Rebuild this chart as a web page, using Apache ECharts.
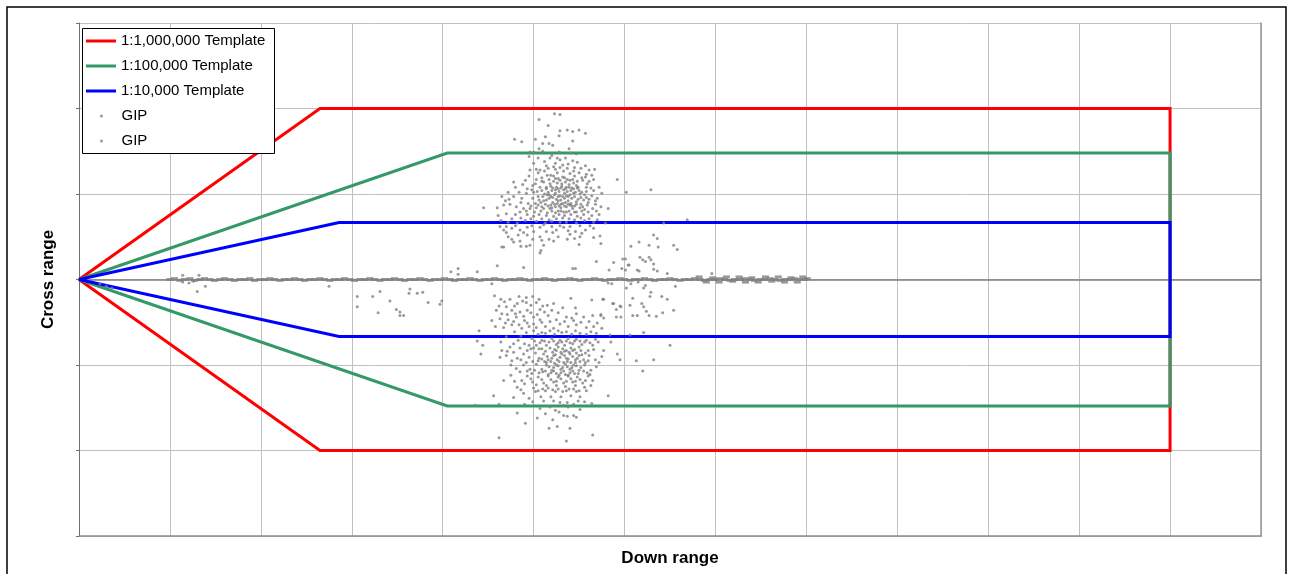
<!DOCTYPE html>
<html>
<head>
<meta charset="utf-8">
<title>Templates and GIP</title>
<script src="https://cdn.jsdelivr.net/npm/echarts@6/dist/echarts.min.js"></script>
<style>
  html, body { margin: 0; padding: 0; background: #fff; }
  #chart { width: 1292px; height: 574px; }
</style>
</head>
<body>
<div id="chart"></div>
<script>
// series names (second GIP carries a trailing space so both legend rows exist)
const seriesNames = ['1:1,000,000 Template', '1:100,000 Template', '1:10,000 Template', 'GIP', 'GIP ']

// template outlines [down range, cross range]
const redTemplate = [[0, 0], [2.65, 2], [12, 2], [12, -2], [2.65, -2], [0, 0]]
const greenTemplate = [[0, 0], [4.05, 1.48], [12, 1.48], [12, -1.48], [4.05, -1.48], [0, 0]]
const blueTemplate = [[0, 0], [2.86, 0.667], [12, 0.667], [12, -0.667], [2.86, -0.667], [0, 0]]

// upper cloud of GIP points
const upperCloud = [
  [5.23,1.94],[5.29,1.93],[5.06,1.87],[5.16,1.80],[5.37,1.75],[5.29,1.74],[5.43,1.73],[5.50,1.75],[5.57,1.71],
  [5.13,1.67],[5.28,1.68],[4.79,1.64],[4.87,1.61],[5.02,1.64],[5.21,1.57],[5.43,1.62],[5.10,1.59],[5.17,1.59],
  [5.06,1.53],[5.39,1.53],[5.28,1.49],[4.96,1.49],[5.00,1.49],[5.10,1.50],[5.41,1.48],[5.05,1.42],[4.95,1.44],
  [5.18,1.42],[5.26,1.42],[5.47,1.47],[5.43,1.39],[5.29,1.40],[5.32,1.34],[5.22,1.32],[5.14,1.33],[5.07,1.28],
  [5.03,1.29],[5.45,1.31],[5.50,1.25],[5.61,1.28],[5.67,1.29],[5.64,1.22],[5.57,1.20],[5.54,1.16],[4.96,1.28],
  [4.95,1.21],[5.09,1.19],[5.15,1.22],[5.22,1.21],[5.27,1.18],[5.34,1.19],[5.40,1.16],[5.45,1.21],[4.78,1.14],
  [4.88,1.11],[5.02,1.12],[5.07,1.08],[5.14,1.08],[5.19,1.09],[5.25,1.08],[5.30,1.07],[5.36,1.08],[5.42,1.07],
  [5.49,1.08],[5.58,1.08],[4.80,1.08],[4.93,1.06],[4.92,1.01],[5.00,1.02],[5.05,0.97],[5.12,1.00],[5.17,0.99],
  [5.24,1.01],[5.29,0.98],[5.34,1.01],[5.38,0.97],[5.44,1.01],[5.51,1.00],[5.66,1.04],[5.75,1.01],[5.70,0.95],
  [5.61,0.94],[5.55,0.93],[5.47,0.91],[5.41,0.89],[5.35,0.90],[5.27,0.92],[5.21,0.90],[5.14,0.93],[5.08,0.90],
  [5.02,0.89],[4.94,0.89],[4.87,0.95],[4.78,0.97],[4.73,0.94],[4.65,0.97],[4.45,0.84],[4.60,0.84],[4.67,0.87],
  [4.74,0.88],[4.81,0.85],[4.89,0.83],[4.96,0.83],[5.03,0.84],[5.11,0.83],[5.18,0.83],[5.24,0.85],[5.30,0.84],
  [5.36,0.85],[5.43,0.83],[5.51,0.84],[5.56,0.82],[5.65,0.83],[5.74,0.85],[5.82,0.83],[4.61,0.75],[4.70,0.77],
  [4.80,0.76],[4.93,0.76],[5.00,0.74],[5.06,0.76],[5.14,0.75],[5.22,0.74],[5.28,0.76],[5.34,0.75],[5.41,0.76],
  [5.48,0.74],[5.55,0.76],[5.64,0.75],[5.72,0.76],[4.64,0.69],[4.72,0.67],[4.82,0.66],[4.91,0.69],[5.03,0.68],
  [5.13,0.66],[5.20,0.68],[5.29,0.67],[5.36,0.67],[5.47,0.66],[5.56,0.69],[5.66,0.67],[5.79,0.66],[4.63,0.62],
  [4.67,0.58],[4.76,0.60],[4.85,0.58],[4.93,0.61],[5.07,0.61],[5.14,0.56],[5.25,0.58],[5.33,0.61],[5.46,0.56],
  [5.57,0.58],[5.66,0.60],[4.70,0.55],[4.76,0.47],[4.83,0.52],[4.93,0.52],[5.07,0.50],[5.17,0.47],[5.27,0.50],
  [5.40,0.53],[5.51,0.50],[5.66,0.49],[5.73,0.51],[4.78,0.44],[4.85,0.45],[5.09,0.46],[5.22,0.45],[5.37,0.47],
  [4.65,0.38],[4.67,0.38],[4.86,0.39],[4.92,0.39],[4.96,0.40],[5.11,0.40],[5.50,0.41],[5.74,0.42],[5.07,0.31],
  [5.08,0.34],[5.69,0.21],
  [5.18,1.12],[5.22,1.15],[5.26,1.13],[5.31,1.12],[5.35,1.14],[5.39,1.11],[5.44,1.13],[5.47,1.10],[5.20,1.04],
  [5.24,1.05],[5.28,1.03],[5.33,1.05],[5.37,1.03],[5.41,1.04],[5.46,1.02],[5.50,1.04],[5.17,0.95],[5.21,0.96],
  [5.25,0.94],[5.30,0.93],[5.34,0.95],[5.38,0.92],[5.42,0.95],[5.49,0.94],[5.19,0.87],[5.23,0.88],[5.28,0.86],
  [5.32,0.89],[5.40,0.87],[5.45,0.86],[5.52,0.88],[5.14,1.06],[5.11,0.92],[5.56,0.99],[5.59,1.12],[5.09,1.15],
  [5.26,1.25],[5.33,1.27],[5.40,1.24],[5.19,1.22],[5.30,0.80],[5.36,0.79],[5.24,0.78],[5.45,0.79],
  [5.92,1.17],[6.02,1.02],[6.29,1.05],[6.69,0.70],[6.43,0.66],
  [5.05,1.25],[5.12,1.27],[5.16,1.30],[5.24,1.29],[5.29,1.31],[5.37,1.30],[5.44,1.27],[5.52,1.30],[5.58,1.23],
  [5.03,1.17],[5.11,1.14],[5.17,1.17],[5.24,1.18],[5.29,1.16],[5.32,1.20],[5.37,1.17],[5.43,1.17],[5.48,1.15],
  [5.53,1.19],[5.61,1.15],[4.98,1.05],[5.04,1.03],[5.09,1.04],[5.16,1.02],[5.21,1.07],[5.27,1.06],[5.31,1.09],
  [5.35,1.06],[5.39,1.08],[5.44,1.06],[5.48,1.07],[5.53,1.02],[5.58,1.03],[5.63,1.07],[4.99,0.95],[5.06,0.93],
  [5.10,0.97],[5.15,0.99],[5.19,0.97],[5.23,0.99],[5.27,0.97],[5.32,0.97],[5.36,0.98],[5.40,0.99],[5.45,0.97],
  [5.52,0.96],[5.58,0.96],[5.64,0.98],[4.97,0.86],[5.05,0.87],[5.09,0.85],[5.13,0.88],[5.16,0.86],[5.20,0.84],
  [5.26,0.89],[5.30,0.88],[5.34,0.86],[5.38,0.88],[5.42,0.86],[5.47,0.88],[5.54,0.85],[5.59,0.87],[5.68,0.88],
  [4.85,0.79],[4.92,0.80],[5.01,0.79],[5.08,0.80],[5.15,0.78],[5.20,0.80],[5.27,0.80],[5.33,0.79],[5.39,0.80],
  [5.47,0.79],[5.53,0.80],[5.60,0.79],[5.69,0.80],[4.76,0.71],[4.86,0.72],[4.97,0.71],[5.09,0.71],[5.17,0.70],
  [5.25,0.71],[5.32,0.72],[5.39,0.71],[5.45,0.70],[5.52,0.72],[5.61,0.71],[5.70,0.70],[4.70,0.62],[4.80,0.63],
  [4.98,0.63],[5.11,0.64],[5.20,0.62],[5.29,0.63],[5.40,0.62],[5.51,0.63],[5.62,0.63],[4.89,0.55],[5.00,0.56],
  [5.21,0.55],[5.38,0.57],[5.53,0.54],[4.72,0.50],[4.99,0.47],[5.45,0.48],[4.69,0.92],[4.72,1.02],[4.84,1.02],
  [4.86,0.90],[4.99,1.10],[4.91,1.16],[5.60,0.90],[5.68,0.92],[5.72,1.08],[5.66,1.17],[5.12,1.38],[5.20,1.45],
  [5.35,1.42],[5.48,1.37],[5.00,1.36],[5.57,1.33],[5.24,1.36],[5.38,1.35]
]

// lower cloud of GIP points
const lowerCloud = [
  [4.54,-0.05],[4.57,-0.19],[4.64,-0.23],[4.74,-0.23],[4.84,-0.20],[4.92,-0.21],[4.99,-0.20],[5.06,-0.23],
  [4.82,-0.28],[4.92,-0.27],[4.70,-0.32],[4.59,-0.36],[4.65,-0.40],[4.76,-0.36],[4.85,-0.38],[4.93,-0.36],
  [5.07,-0.35],[5.15,-0.30],[5.22,-0.28],[5.41,-0.22],[5.46,-0.33],[5.64,-0.24],[5.77,-0.23],[5.88,-0.28],
  [5.95,-0.31],[4.54,-0.48],[4.63,-0.46],[4.72,-0.47],[4.81,-0.44],[4.90,-0.48],[5.00,-0.44],[5.07,-0.47],
  [5.16,-0.42],[5.27,-0.39],[5.36,-0.44],[5.47,-0.40],[5.55,-0.44],[5.65,-0.42],[5.74,-0.41],[4.40,-0.60],
  [4.58,-0.55],[4.67,-0.56],[4.76,-0.53],[4.87,-0.57],[4.95,-0.55],[5.03,-0.56],[5.13,-0.55],[5.22,-0.57],
  [5.29,-0.52],[5.38,-0.55],[5.47,-0.53],[5.58,-0.56],[5.66,-0.55],[5.75,-0.57],[5.84,-0.65],[6.06,-0.65],
  [6.21,-0.62],[4.38,-0.72],[4.44,-0.77],[4.42,-0.87],[4.64,-0.73],[4.70,-0.67],[4.74,-0.79],[4.83,-0.71],
  [4.90,-0.75],[4.98,-0.69],[5.03,-0.77],[5.09,-0.71],[5.14,-0.77],[5.20,-0.69],[5.25,-0.76],[5.29,-0.71],
  [5.34,-0.77],[5.38,-0.69],[5.43,-0.75],[5.47,-0.70],[5.53,-0.76],[5.58,-0.71],[5.65,-0.77],[5.71,-0.73],
  [5.77,-0.83],[5.85,-0.73],[5.92,-0.87],[6.13,-0.95],[6.32,-0.94],[6.50,-0.77],[6.20,-1.07],[5.95,-0.94],
  [4.65,-0.83],[4.63,-0.91],[4.70,-0.89],[4.78,-0.85],[4.82,-0.92],[4.89,-0.87],[4.95,-0.91],[5.02,-0.86],
  [5.06,-0.92],[5.11,-0.87],[5.16,-0.94],[5.22,-0.89],[5.26,-0.94],[5.31,-0.87],[5.36,-0.92],[5.40,-0.87],
  [5.46,-0.94],[5.50,-0.89],[5.55,-0.94],[5.61,-0.89],[5.68,-0.94],[5.75,-0.90],[4.75,-1.00],[4.81,-1.04],
  [4.89,-1.00],[4.96,-1.05],[5.03,-0.99],[5.09,-1.05],[5.14,-1.00],[5.20,-1.06],[5.25,-1.00],[5.30,-1.05],
  [5.35,-0.99],[5.40,-1.05],[5.44,-1.00],[5.50,-1.06],[5.56,-1.00],[5.63,-1.06],[5.69,-1.02],[4.67,-1.18],
  [4.75,-1.12],[4.82,-1.26],[4.87,-1.18],[4.93,-1.13],[4.99,-1.20],[5.05,-1.14],[5.11,-1.21],[5.16,-1.13],
  [5.22,-1.20],[5.27,-1.14],[5.33,-1.21],[5.38,-1.13],[5.43,-1.20],[5.48,-1.14],[5.54,-1.21],[5.60,-1.13],
  [5.65,-1.18],[4.56,-1.36],[4.78,-1.38],[4.89,-1.33],[4.95,-1.39],[5.02,-1.31],[5.08,-1.37],[5.13,-1.30],
  [5.19,-1.37],[5.24,-1.31],[5.30,-1.37],[5.36,-1.30],[5.41,-1.36],[5.47,-1.31],[5.51,-1.37],[5.58,-1.30],
  [5.82,-1.36],[4.36,-1.47],[4.62,-1.46],[4.90,-1.46],[5.07,-1.51],[5.18,-1.49],[5.24,-1.53],[5.37,-1.44],
  [5.38,-1.49],[5.44,-1.46],[5.64,-1.45],[4.82,-1.56],[5.33,-1.59],[5.37,-1.60],[5.44,-1.59],[5.47,-1.61],
  [4.91,-1.68],[5.26,-1.72],[5.17,-1.74],[5.40,-1.74],[4.62,-1.85],[5.65,-1.82],[5.36,-1.89],
  [5.18,-0.80],[5.23,-0.82],[5.27,-0.79],[5.32,-0.81],[5.36,-0.83],[5.41,-0.80],[5.45,-0.82],[5.50,-0.79],
  [5.15,-0.90],[5.20,-0.92],[5.24,-0.88],[5.29,-0.91],[5.34,-0.89],[5.38,-0.93],[5.43,-0.90],[5.48,-0.92],
  [5.53,-0.88],[5.17,-1.02],[5.22,-1.03],[5.27,-1.01],[5.32,-1.03],[5.37,-1.02],[5.42,-1.03],[5.47,-1.01],
  [5.52,-1.03],[5.19,-1.09],[5.25,-1.10],[5.30,-1.09],[5.35,-1.11],[5.40,-1.09],[5.45,-1.10],[5.12,-0.96],
  [5.57,-0.97],[5.10,-1.08],[5.59,-1.09],[5.06,-0.81],[5.60,-0.83],[5.13,-0.63],[5.31,-0.62],[5.42,-0.64],
  [5.05,-0.64],[5.25,-1.24],[5.35,-1.25],[5.46,-1.24],[4.98,-1.10],[4.92,-0.97],[4.86,-0.66],[4.97,-0.81],
  [5.58,-0.64],[5.63,-1.24],
  [4.68,-0.26],[4.79,-0.31],[4.88,-0.25],[4.97,-0.30],[5.03,-0.27],[5.10,-0.31],[4.62,-0.31],[4.71,-0.41],
  [4.80,-0.40],[4.89,-0.43],[4.97,-0.39],[5.04,-0.41],[5.12,-0.38],[5.20,-0.36],[5.32,-0.33],[5.42,-0.45],
  [4.69,-0.51],[4.78,-0.49],[4.84,-0.53],[4.93,-0.51],[5.00,-0.52],[5.09,-0.50],[5.18,-0.49],[5.25,-0.47],
  [5.34,-0.49],[5.44,-0.48],[5.52,-0.50],[5.61,-0.49],[5.70,-0.51],[4.79,-0.61],[4.92,-0.62],[5.00,-0.60],
  [5.09,-0.62],[5.18,-0.60],[5.23,-0.64],[5.27,-0.60],[5.36,-0.61],[5.46,-0.60],[5.51,-0.63],[5.63,-0.61],
  [5.69,-0.63],[4.78,-0.75],[4.95,-0.77],[5.01,-0.72],[5.07,-0.74],[5.12,-0.72],[5.17,-0.73],[5.22,-0.72],
  [5.27,-0.74],[5.31,-0.73],[5.36,-0.72],[5.40,-0.74],[5.45,-0.72],[5.51,-0.72],[5.56,-0.73],[5.62,-0.74],
  [5.68,-0.70],[4.71,-0.84],[4.85,-0.80],[4.93,-0.83],[5.00,-0.80],[5.09,-0.81],[5.13,-0.84],[5.21,-0.85],
  [5.25,-0.83],[5.30,-0.85],[5.34,-0.84],[5.39,-0.85],[5.43,-0.83],[5.47,-0.86],[5.52,-0.83],[5.57,-0.86],
  [5.66,-0.82],[4.76,-0.95],[4.86,-0.94],[4.99,-0.96],[5.05,-0.95],[5.09,-0.93],[5.14,-0.97],[5.19,-0.96],
  [5.23,-0.98],[5.28,-0.96],[5.33,-0.97],[5.37,-0.96],[5.41,-0.97],[5.46,-0.97],[5.51,-0.96],[5.60,-0.95],
  [5.72,-0.97],[4.85,-1.08],[4.93,-1.07],[5.01,-1.06],[5.06,-1.09],[5.13,-1.07],[5.16,-1.11],[5.22,-1.07],
  [5.28,-1.12],[5.33,-1.07],[5.38,-1.12],[5.43,-1.07],[5.49,-1.10],[5.55,-1.07],[5.62,-1.11],[4.79,-1.19],
  [4.90,-1.22],[4.97,-1.16],[5.03,-1.23],[5.09,-1.17],[5.14,-1.24],[5.19,-1.17],[5.25,-1.19],[5.30,-1.16],
  [5.36,-1.19],[5.41,-1.16],[5.46,-1.19],[5.51,-1.17],[5.57,-1.18],[4.86,-1.29],[5.00,-1.27],[5.05,-1.30],
  [5.10,-1.28],[5.16,-1.27],[5.21,-1.29],[5.27,-1.28],[5.32,-1.31],[5.39,-1.28],[5.44,-1.28],[5.50,-1.30],
  [5.56,-1.26],[4.99,-1.43],[5.11,-1.42],[5.22,-1.42],[5.29,-1.44],[5.33,-1.47],[5.49,-1.42],[5.56,-1.43],
  [5.28,-1.55],[5.13,-1.57],[5.51,-1.52],[5.04,-1.62],[5.21,-1.64]
]

// scattered GIP points around the centre line
const strayPoints = [
  [5.82,-0.04],[5.86,-0.05],[6.15,-0.03],[6.07,-0.05],[6.56,-0.08],[6.02,-0.10],[6.23,-0.07],[6.21,-0.10],
  [6.09,-0.22],[6.29,-0.15],[6.28,-0.20],[6.41,-0.20],[6.47,-0.23],[5.76,-0.23],[6.06,-0.30],[6.19,-0.28],
  [5.87,-0.28],[5.96,-0.32],[5.91,-0.35],[6.21,-0.32],[6.24,-0.37],[6.54,-0.36],[6.42,-0.39],[6.27,-0.42],
  [6.09,-0.42],[6.14,-0.42],[6.35,-0.43],[5.91,-0.44],[5.96,-0.44],[5.74,-0.42],[5.77,-0.45],
  [6.32,0.52],[6.36,0.48],[6.16,0.44],[6.27,0.40],[6.37,0.38],[6.54,0.40],[6.58,0.35],[6.07,0.39],
  [5.98,0.24],[6.01,0.24],[6.17,0.26],[6.27,0.26],[6.20,0.23],[6.23,0.21],[6.29,0.23],[6.32,0.18],
  [5.88,0.20],[6.05,0.17],[6.14,0.11],[6.16,0.10],[5.97,0.13],[6.01,0.11],[5.83,0.11],[6.32,0.12],
  [6.36,0.10],[6.47,0.07],[6.96,0.07],[6.04,0.17],
  [4.17,0.13],[4.60,0.16],[4.89,0.14],[5.43,0.13],[5.46,0.13],
  [1.30,-0.14],[1.39,-0.08],[2.75,-0.08],[3.06,-0.20],[3.06,-0.32],[3.23,-0.20],[3.31,-0.14],[3.29,-0.39],
  [3.42,-0.25],[3.49,-0.35],[3.53,-0.38],[3.53,-0.42],[3.57,-0.42],[3.63,-0.16],[3.64,-0.11],[3.72,-0.16],
  [3.78,-0.15],[3.84,-0.27],[3.97,-0.29],[3.99,-0.25],[4.09,0.09],[4.17,0.06],[4.38,0.09],
  [1.14,0.05],[1.32,0.05],[1.14,-0.03],[1.21,-0.04],[1.26,-0.02],[0.23,-0.05],[0.30,-0.08],[0.36,-0.10]
]

// dense strip of GIP points along zero cross range
const centreStrip = [
  [1.00,0.00],[1.05,0.01],[1.11,-0.01],[1.16,0.00],[1.22,0.01],[1.27,-0.01],[1.33,0.00],[1.38,0.01],[1.44,0.00],
  [1.49,-0.01],[1.55,0.00],[1.60,0.01],[1.66,0.00],[1.71,-0.01],[1.77,0.00],[1.82,0.00],[1.88,0.01],[1.93,-0.01],
  [1.99,0.00],[2.04,0.00],[2.10,0.01],[2.15,0.00],[2.21,-0.01],[2.26,0.00],[2.32,0.00],[2.37,0.01],[2.43,0.00],
  [2.48,-0.01],[2.54,0.00],[2.59,0.00],[2.65,0.01],[2.70,0.00],[2.76,-0.01],[2.81,0.00],[2.87,0.00],[2.92,0.01],
  [2.98,0.00],[3.03,-0.01],[3.09,0.00],[3.14,0.00],[3.20,0.01],[3.25,0.00],[3.31,-0.01],[3.36,0.00],[3.42,0.00],
  [3.47,0.01],[3.53,0.00],[3.58,-0.01],[3.64,0.00],[3.69,0.00],[3.75,0.01],[3.80,0.00],[3.86,-0.01],[3.91,0.00],
  [3.97,0.00],[4.02,0.01],[4.08,0.00],[4.13,-0.01],[4.19,0.00],[4.24,0.00],[4.30,0.01],[4.35,0.00],[4.41,-0.01],
  [4.46,0.00],[4.52,0.00],[4.57,0.01],[4.63,0.00],[4.68,-0.01],[4.74,0.00],[4.79,0.00],[4.85,0.01],[4.90,0.00],
  [4.96,-0.01],[5.01,0.00],[5.07,0.00],[5.12,0.01],[5.18,0.00],[5.23,-0.01],[5.29,0.00],[5.34,0.00],[5.40,0.01],
  [5.45,0.00],[5.51,-0.01],[5.56,0.00],[5.62,0.00],[5.67,0.01],[5.73,0.00],[5.78,-0.01],[5.84,0.00],[5.89,0.00],
  [5.95,0.01],[6.00,0.00],[6.06,-0.01],[6.11,0.00],[6.17,0.00],[6.22,0.01],[6.28,0.00],[6.33,-0.01],[6.39,0.00],
  [6.44,0.00],[6.50,0.01],[6.55,0.00],[6.61,-0.01],[6.66,0.00],[6.72,0.00],[6.77,0.01],[6.83,0.00],[6.88,-0.01],
  [6.94,0.00],[6.99,0.00],[7.05,0.01],[7.10,0.00],[7.16,-0.01],[7.21,0.00],[7.27,0.00],[7.32,0.01],[7.38,0.00],
  [7.43,-0.01],[7.49,0.00],[7.54,0.00],[7.60,0.01],[7.65,0.00],[7.71,-0.01],[7.76,0.00],[7.82,0.00],[7.87,0.01],
  [7.93,0.00],[7.98,0.00],
  [6.82,0.03],[6.90,-0.03],[6.97,0.02],[7.04,-0.03],[7.12,0.03],[7.19,-0.02],[7.26,0.03],[7.33,-0.03],[7.40,0.02],
  [7.47,-0.03],[7.55,0.03],[7.62,-0.02],[7.69,0.03],[7.76,-0.03],[7.83,0.02],[7.90,-0.03],[7.96,0.03],[8.01,0.01]
]

const font = '"Liberation Sans", Arial, sans-serif'
const gridColor = '#c0c0c0'
const gipColor = '#808080'

const chart = echarts.init(document.getElementById('chart'), null, { renderer: 'canvas' })

const templateSeries = (name, data, color) => ({
  name,
  type: 'line',
  data,
  xAxisIndex: 0,
  yAxisIndex: 0,
  symbol: 'none',
  color,
  lineStyle: { color, width: 3, join: 'miter' },
  silent: true,
  z: 2
})

const legendText = { fontFamily: font, fontSize: 15, lineHeight: 18, color: '#000' }

const option = {
  animation: false,
  backgroundColor: '#fff',
  textStyle: { fontFamily: font },
  grid: { left: 79, right: 31, top: 23, bottom: 38, containLabel: false },
  xAxis: [{
    type: 'value',
    position: 'top',
    min: 0, max: 13, interval: 1,
    axisLine: { onZero: true, onZeroAxisIndex: 0, lineStyle: { color: '#808080', width: 1.5 } },
    axisTick: { show: false },
    axisLabel: { show: false },
    splitLine: { show: true, lineStyle: { color: gridColor, width: 1 } }
  }, {
    type: 'value',
    position: 'bottom',
    min: 0, max: 13, interval: 1,
    axisLine: { onZero: false, lineStyle: { color: '#8c8c8c', width: 1.5 } },
    axisTick: { show: false },
    axisLabel: { show: false },
    splitLine: { show: false },
    name: 'Down range',
    nameLocation: 'middle',
    nameGap: 14,
    nameTextStyle: { fontFamily: font, fontSize: 17, fontWeight: 'bold', color: '#000' }
  }],
  yAxis: [{
    type: 'value',
    position: 'left',
    min: -3, max: 3, interval: 1,
    axisLine: { onZero: false, lineStyle: { color: '#707070', width: 1 } },
    axisTick: { show: true, length: 3, lineStyle: { color: '#707070' } },
    axisLabel: { show: false },
    splitLine: { show: true, lineStyle: { color: gridColor, width: 1 } },
    name: 'Cross range',
    nameLocation: 'middle',
    nameRotate: 90,
    nameGap: 22,
    nameTextStyle: { fontFamily: font, fontSize: 17, fontWeight: 'bold', color: '#000' }
  }, {
    type: 'value',
    position: 'right',
    min: -3, max: 3, interval: 1,
    axisLine: { onZero: false, lineStyle: { color: '#999', width: 1.5 } },
    axisTick: { show: false },
    axisLabel: { show: false },
    splitLine: { show: false }
  }],
  legend: [{
    data: seriesNames.slice(0, 3),
    orient: 'vertical',
    left: 86, top: 32,
    padding: 0,
    itemWidth: 30, itemHeight: 3, itemGap: 7,
    icon: 'rect',
    selectedMode: false,
    textStyle: legendText,
    z: 20
  }, {
    // the dot sits mid-icon, so the legend box starts at the dot
    data: seriesNames.slice(3),
    orient: 'vertical',
    left: 100, top: 107,
    padding: 0,
    itemWidth: 30, itemHeight: 3, itemGap: 7,
    icon: 'circle',
    selectedMode: false,
    textStyle: legendText,
    z: 20
  }],
  graphic: [{
    type: 'rect',
    shape: { x: 7, y: 7, width: 1279, height: 600 },
    style: { fill: 'none', stroke: '#000', lineWidth: 1.5 },
    silent: true,
    z: 1
  }, {
    type: 'rect',
    shape: { x: 82.5, y: 28.5, width: 192, height: 125 },
    style: { fill: '#fff', stroke: '#000', lineWidth: 1 },
    silent: true,
    z: 10
  }],
  series: [
    templateSeries(seriesNames[0], redTemplate, '#ff0000'),
    templateSeries(seriesNames[1], greenTemplate, '#339966'),
    templateSeries(seriesNames[2], blueTemplate, '#0000ff'),
    {
      name: seriesNames[3],
      type: 'scatter',
      data: upperCloud.concat(lowerCloud, strayPoints),
      xAxisIndex: 0,
      yAxisIndex: 0,
      symbol: 'circle',
      symbolSize: 3,
      itemStyle: { color: gipColor },
      silent: true,
      z: 3
    },
    {
      name: seriesNames[4],
      type: 'scatter',
      data: centreStrip,
      xAxisIndex: 0,
      yAxisIndex: 0,
      symbol: 'rect',
      symbolSize: [7, 3],
      itemStyle: { color: gipColor },
      silent: true,
      z: 3
    }
  ]
}

chart.setOption(option)
</script>
</body>
</html>
